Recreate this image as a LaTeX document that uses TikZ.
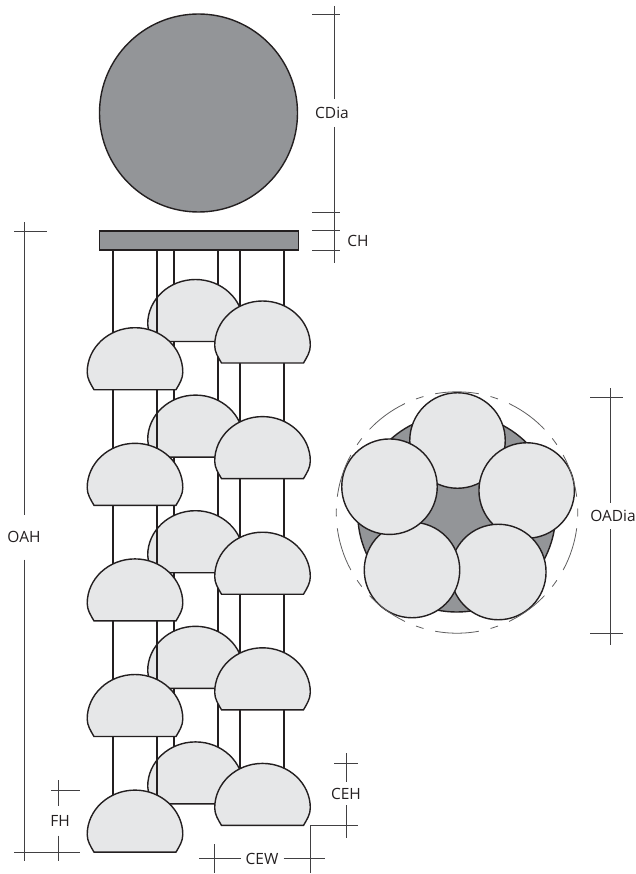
\documentclass[tikz,border=0pt]{standalone}
\usepackage{fontspec}
\setmainfont{Open Sans}
\definecolor{shadedark}{HTML}{939598}
\definecolor{shadelight}{HTML}{E6E7E8}
\definecolor{outline}{HTML}{231F20}
\definecolor{dimgrey}{HTML}{414042}
\tikzset{
  solid part/.style={draw=outline,line width=1.4pt,fill=shadedark,inner sep=0pt,outer sep=0pt},
  wire/.style={draw=outline,line width=1.2pt},
  dimline/.style={draw=dimgrey,line width=0.8pt},
  dimlabel/.style={inner sep=0pt,outer sep=0pt,text=outline,font=\fontsize{15.5}{18}\selectfont},
  dome/.pic={
    \draw[draw=outline,line width=1.4pt,fill=shadelight]
      (-41,0) -- (41,0)
      .. controls (44.5,-6) and (47.8,-11) .. (47.8,-17.5)
      .. controls (47.8,-42) and (26.4,-62) .. (0,-62)
      .. controls (-26.4,-62) and (-47.8,-42) .. (-47.8,-17.5)
      .. controls (-47.8,-11) and (-44.5,-6) .. (-41,0) -- cycle;
  }
}
\begin{document}
\begin{tikzpicture}[x=1pt,y=-1pt]
  \useasboundingbox (0,0) rectangle (636,874);
  % canopy seen from the side
  \node[solid part,circle,minimum size=198pt] (canopytop) at (198.5,113) {};
  \node[solid part,rectangle,minimum width=199pt,minimum height=19pt] (canopy) at (199,240.5) {};
  % back column
  \foreach \wx in {174,218} {
    \draw[wire] (canopy.south -| \wx,0) -- (\wx,770);
  }
  \foreach \fy in {341.5,457.1,572.7,688.3,803.9} {
    \pic at (195.5,\fy) {dome};
  }
  % front columns
  \foreach \wx/\wend in {113/815,157/815,240/790,284/790} {
    \draw[wire] (canopy.south -| \wx,0) -- (\wx,\wend);
  }
  \foreach \fy in {363,478.6,594.2,709.8,825.4} {
    \pic at (262.5,\fy) {dome};
  }
  \foreach \fy in {389.7,505.3,620.9,736.5,852.1} {
    \pic at (135,\fy) {dome};
  }
  % plan view
  \node[solid part,circle,minimum size=198pt] (planbase) at (456.7,513) {};
  \begin{scope}[every node/.style={solid part,circle,fill=shadelight,minimum size=95.5pt}]
    \node (plana) at (457.5,440.5) {};
    \node (planb) at (526.7,490.5) {};
    \node (planc) at (498.3,572) {};
    \node (pland) at (412,570) {};
    \node (plane) at (389.5,486.7) {};
  \end{scope}
  \draw[draw=dimgrey!85!white,line width=0.8pt,dash pattern=on 44pt off 12pt on 7.84pt off 12pt,dash phase=59.92pt]
    (457,512.5) circle (120.7);
  % CDia and CH
  \node[dimlabel,minimum height=28pt] (cdia) at (332,113) {CDia};
  \node[dimlabel] (ch) at (358,241) {CH};
  \coordinate (cdiatop) at (334,6);
  \coordinate (chbottom) at (334,263);
  \draw[dimline] (cdiatop) -- (cdiatop |- cdia.north);
  \draw[dimline] (chbottom |- cdia.south) -- (chbottom);
  \foreach \ty in {14,212.7,230.7,250.5} {
    \draw[dimline] (312,\ty) -- (340,\ty);
  }
  % OAH and FH
  \node[dimlabel,minimum height=45pt] (oah) at (24,537) {OAH};
  \node[dimlabel,minimum height=30pt] (fh) at (60,820.5) {FH};
  \coordinate (oahtop) at (24.5,222.5);
  \coordinate (oahbottom) at (24.5,861);
  \coordinate (fhtop) at (58,780);
  \coordinate (fhbottom) at (58,861);
  \draw[dimline] (oahtop) -- (oahtop |- oah.north);
  \draw[dimline] (oahbottom |- oah.south) -- (oahbottom);
  \draw[dimline] (14,231) -- (46.5,231);
  \draw[dimline] (fhtop) -- (fhtop |- fh.north);
  \draw[dimline] (fhbottom |- fh.south) -- (fhbottom);
  \draw[dimline] (51,790.5) -- (80,790.5);
  \draw[dimline] (14,852) -- (80,852);
  % CEH and CEW
  \node[dimlabel,minimum height=23pt] (ceh) at (346,793.5) {CEH};
  \node[dimlabel,minimum width=43pt] (cew) at (262,858.5) {CEW};
  \coordinate (cehtop) at (346,753);
  \coordinate (cehbottom) at (346,838);
  \draw[dimline] (cehtop) -- (cehtop |- ceh.north);
  \draw[dimline] (cehbottom |- ceh.south) -- (cehbottom);
  \draw[dimline] (334,763.5) -- (358,763.5);
  \draw[dimline] (310,873) -- (310,825.5) -- (358,825.5);
  \draw[dimline] (214.5,844) -- (214.5,873);
  \draw[dimline] (199,858.5) -- (cew.west);
  \draw[dimline] (cew.east) -- (325,858.5);
  % OADia
  \node[dimlabel,minimum height=26pt] (oadia) at (613,516) {OADia};
  \coordinate (oadiatop) at (610,388);
  \coordinate (oadiabottom) at (610,645);
  \draw[dimline] (oadiatop) -- (oadiatop |- oadia.north);
  \draw[dimline] (oadiabottom |- oadia.south) -- (oadiabottom);
  \draw[dimline] (590,397.7) -- (623,397.7);
  \draw[dimline] (590,633) -- (623,633);
\end{tikzpicture}
\end{document}
